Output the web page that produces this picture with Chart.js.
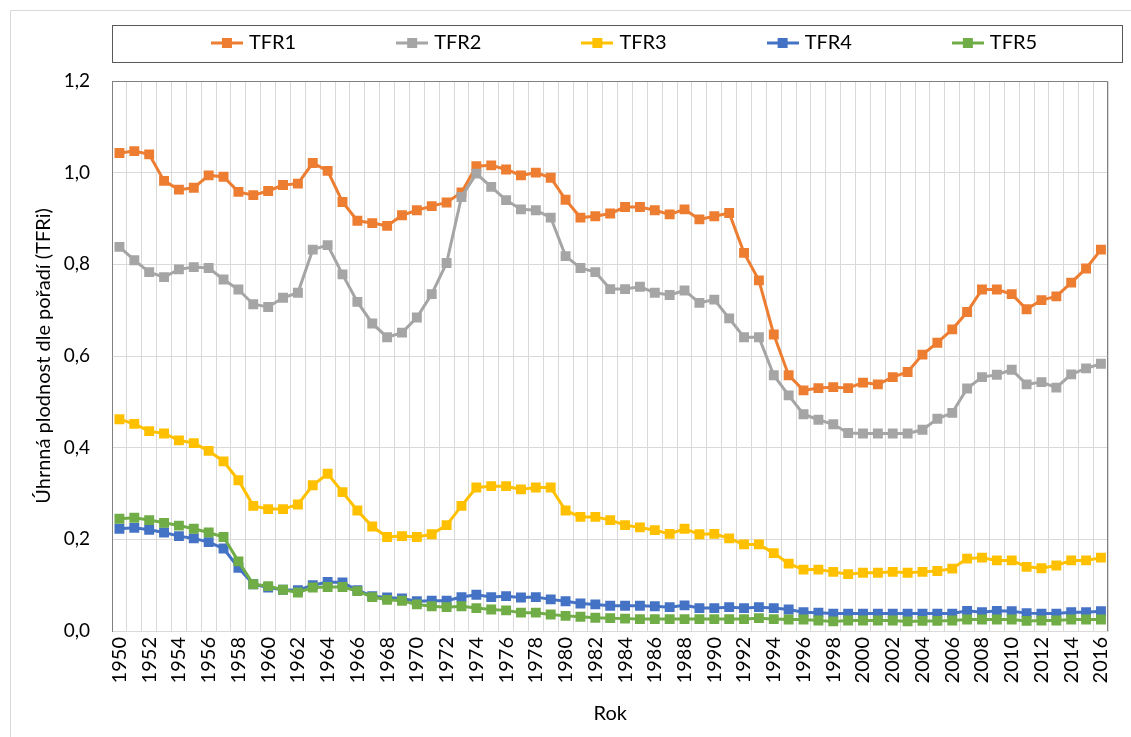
<!DOCTYPE html>
<html><head><meta charset="utf-8">
<script src="https://cdn.jsdelivr.net/npm/chart.js@4.4.1/dist/chart.umd.min.js"></script>
<style>html,body{margin:0;padding:0;background:#fff;}#wrap{width:1131px;height:737px;}</style>
</head><body><div id="wrap"><canvas id="c" width="1131" height="737"></canvas></div>
<script>
const years = ['1950','1951','1952','1953','1954','1955','1956','1957','1958','1959',
'1960','1961','1962','1963','1964','1965','1966','1967','1968','1969',
'1970','1971','1972','1973','1974','1975','1976','1977','1978','1979',
'1980','1981','1982','1983','1984','1985','1986','1987','1988','1989',
'1990','1991','1992','1993','1994','1995','1996','1997','1998','1999',
'2000','2001','2002','2003','2004','2005','2006','2007','2008','2009',
'2010','2011','2012','2013','2014','2015','2016'];

const tfr1 = [1.043,1.047,1.040,0.982,0.963,0.967,0.994,0.991,0.958,0.951,
0.960,0.973,0.976,1.021,1.004,0.936,0.895,0.890,0.884,0.907,
0.918,0.927,0.935,0.957,1.014,1.016,1.007,0.994,1.000,0.989,
0.941,0.902,0.905,0.911,0.925,0.925,0.918,0.909,0.920,0.898,
0.905,0.912,0.825,0.765,0.647,0.558,0.525,0.530,0.532,0.530,
0.542,0.538,0.554,0.565,0.603,0.629,0.658,0.696,0.745,0.745,
0.735,0.702,0.722,0.730,0.760,0.791,0.832];

const tfr2 = [0.838,0.809,0.783,0.772,0.789,0.794,0.792,0.767,0.745,0.713,
0.707,0.727,0.738,0.832,0.842,0.778,0.718,0.671,0.641,0.651,
0.684,0.735,0.803,0.947,0.998,0.969,0.940,0.920,0.918,0.902,
0.818,0.792,0.783,0.746,0.746,0.751,0.738,0.733,0.743,0.716,
0.723,0.682,0.641,0.641,0.558,0.514,0.473,0.461,0.451,0.432,
0.431,0.431,0.431,0.431,0.439,0.463,0.476,0.529,0.554,0.559,
0.570,0.538,0.543,0.531,0.560,0.573,0.583];

const tfr3 = [0.462,0.452,0.436,0.431,0.416,0.410,0.393,0.370,0.329,0.273,
0.266,0.266,0.276,0.318,0.343,0.303,0.263,0.228,0.205,0.207,
0.205,0.211,0.231,0.273,0.313,0.316,0.316,0.309,0.313,0.313,
0.263,0.249,0.249,0.242,0.231,0.226,0.220,0.212,0.223,0.211,
0.212,0.202,0.189,0.189,0.170,0.147,0.134,0.134,0.129,0.124,
0.127,0.127,0.129,0.127,0.129,0.131,0.136,0.158,0.160,0.154,
0.154,0.140,0.137,0.143,0.154,0.154,0.160];

const tfr4 = [0.223,0.225,0.221,0.215,0.207,0.202,0.194,0.180,0.138,0.102,
0.095,0.090,0.089,0.100,0.107,0.106,0.089,0.076,0.073,0.071,
0.065,0.066,0.066,0.074,0.079,0.074,0.076,0.073,0.074,0.069,
0.065,0.060,0.058,0.055,0.055,0.055,0.054,0.052,0.056,0.050,
0.050,0.052,0.050,0.052,0.050,0.047,0.041,0.040,0.038,0.038,
0.038,0.038,0.038,0.038,0.038,0.038,0.038,0.044,0.041,0.044,
0.043,0.039,0.038,0.038,0.041,0.041,0.043];

const tfr5 = [0.245,0.247,0.242,0.236,0.230,0.223,0.215,0.205,0.152,0.102,
0.098,0.090,0.084,0.095,0.096,0.096,0.087,0.074,0.068,0.066,
0.058,0.054,0.052,0.054,0.050,0.047,0.045,0.040,0.040,0.036,
0.033,0.031,0.029,0.028,0.027,0.026,0.026,0.026,0.026,0.026,
0.026,0.026,0.026,0.028,0.026,0.025,0.025,0.023,0.021,0.023,
0.023,0.023,0.023,0.021,0.022,0.022,0.023,0.025,0.025,0.025,
0.025,0.022,0.023,0.023,0.025,0.025,0.025];

const seriesNames = ['TFR1','TFR2','TFR3','TFR4','TFR5'];
const seriesData = [tfr1, tfr2, tfr3, tfr4, tfr5];
const seriesColors = ['#ED7D31','#A5A5A5','#FFC000','#4472C4','#70AD47'];
const yTitle = 'Úhrnná plodnost dle pořadí (TFRi)';
const xTitle = 'Rok';

Chart.defaults.font.family = 'Lato, "Open Sans", sans-serif';
Chart.defaults.color = '#000';

function makeMarker(color){
  const c = document.createElement('canvas');
  c.width = 32; c.height = 12;
  const g = c.getContext('2d');
  g.strokeStyle = color; g.lineWidth = 3;
  g.beginPath(); g.moveTo(0,6); g.lineTo(32,6); g.stroke();
  g.fillStyle = color; g.fillRect(11,1,10,10);
  return c;
}

const LEG_PAD = 104;
const LEG_FONT = 20;
const legendFix = {
  id:'legendFix',
  afterInit(chart){
    const lg = chart.legend;
    if (!lg || lg._patched) return;
    const orig = lg.fit;
    lg.fit = function(){ orig.call(this); this.height = 0; };
    lg._patched = true;
  },
  afterLayout(chart){
    const lg = chart.legend;
    if (!lg) return;
    lg.left = 52; lg.right = 1200;
    lg.top = 43 - LEG_FONT/2 - LEG_PAD; lg.bottom = 72;
    lg.width = lg.right - lg.left; lg.height = lg.bottom - lg.top;
  }
};

const frame = {
  id:'frame',
  afterDraw(chart){
    const g = chart.ctx, a = chart.chartArea;
    g.save();
    g.strokeStyle = '#d9d9d9'; g.lineWidth = 1;
    g.beginPath(); g.moveTo(10.5, 737); g.lineTo(10.5, 10.5); g.lineTo(1131, 10.5); g.stroke();
    g.strokeStyle = '#808080';
    g.beginPath();
    g.moveTo(Math.round(a.left)+0.5, Math.round(a.top)+0.5);
    g.lineTo(Math.round(a.right)-0.5, Math.round(a.top)+0.5);
    g.lineTo(Math.round(a.right)-0.5, Math.round(a.bottom));
    g.stroke();
    g.strokeStyle = '#595959';
    g.strokeRect(Math.round(a.left)+0.5, 25.5, 1122 - Math.round(a.left), 37);
    g.restore();
  }
};

const datasets = seriesNames.map((n,i)=>({
  label:n, data:seriesData[i], borderColor:seriesColors[i], backgroundColor:seriesColors[i],
  borderWidth:3, pointStyle:'rect', pointRadius:7, pointHoverRadius:7, pointBorderWidth:0,
  tension:0, order:5-i
}));

new Chart(document.getElementById('c'), {
  type:'line',
  data:{labels:years, datasets},
  options:{
    responsive:false, animation:false,
    layout:{padding:{top:81,left:0,right:5,bottom:0}},
    plugins:{
      tooltip:{enabled:false},
      legend:{
        position:'top',
        labels:{
          usePointStyle:true, pointStyleWidth:24, padding:LEG_PAD, font:{size:LEG_FONT},
          generateLabels(chart){
            return chart.data.datasets.map((ds,i)=>({
              text:ds.label, pointStyle:makeMarker(ds.borderColor), datasetIndex:i,
              hidden:false, lineWidth:0, strokeStyle:'rgba(0,0,0,0)', fillStyle:ds.borderColor, fontColor:'#000'
            }));
          }
        }
      }
    },
    scales:{
      x:{
        offset:true,
        grid:{offset:true, color:'#d9d9d9', drawTicks:false},
        border:{color:'#d9d9d9'},
        ticks:{autoSkip:false, minRotation:90, maxRotation:90, padding:6, font:{size:20},
          callback(v, i){ return (i % 2 === 0) ? years[i] : ''; }},
        title:{display:true, text:xTitle, font:{size:20}, padding:{top:0,bottom:11}},
        afterFit(s){ s.height = 106; }
      },
      y:{
        min:0, max:1.2,
        grid:{color:'#d9d9d9', drawTicks:false},
        border:{color:'#808080'},
        ticks:{stepSize:0.2, padding:22, font:{size:19},
          callback(v){ return Number(v).toFixed(1).replace('.', ','); }},
        title:{display:true, text:yTitle, font:{size:20}, padding:{top:32,bottom:0}},
        afterFit(s){ s.width = 112; }
      }
    }
  },
  plugins:[legendFix, frame]
});
</script></body></html>
